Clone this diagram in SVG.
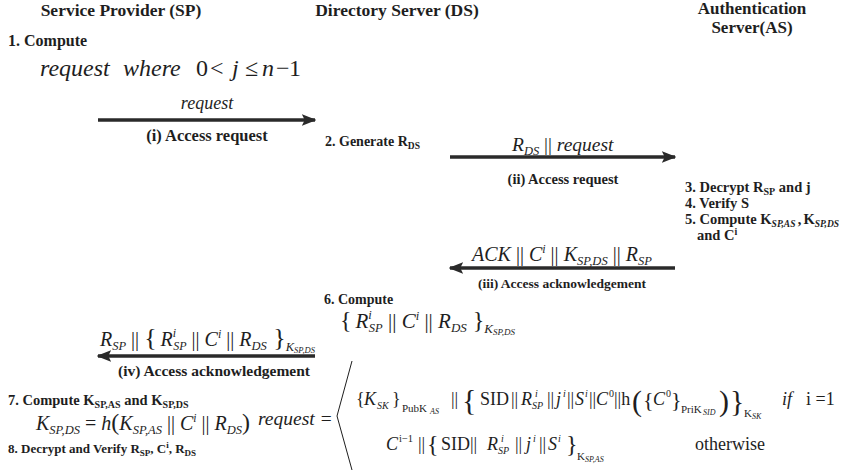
<svg xmlns="http://www.w3.org/2000/svg" width="851" height="473" viewBox="0 0 851 473" font-family="'Liberation Serif', 'DejaVu Serif', serif">
  <style>
    text { font-family: "Liberation Serif", "DejaVu Serif", serif; fill: #1e1e1e; }
    .hd { font-size: 17.5px; font-weight: bold; text-anchor: middle; }
    .st { font-size: 14px; font-weight: bold; }
    .lb { font-size: 14.5px; font-weight: bold; text-anchor: middle; }
    .mi { font-style: italic; }
    .arrow { stroke: #2a2a2a; stroke-width: 3.5; fill: none; }
  </style>
  <defs>
    <marker id="head" viewBox="0 0 10 8" refX="9" refY="4" markerWidth="4.2" markerHeight="3.4" orient="auto" markerUnits="strokeWidth">
      <path d="M0,0 L10,4 L0,8 L2,4 Z" fill="#2a2a2a"/>
    </marker>
  </defs>

  <!-- Service Provider column -->
  <g id="sp-node">
    <text class="hd" x="121" y="16">Service Provider (SP)</text>
    <text class="st" x="8" y="46" style="font-size:16px">1. Compute</text>
    <text x="40" y="76" font-size="24"><tspan class="mi">request</tspan><tspan class="mi" x="123">where</tspan><tspan x="196">0</tspan><tspan x="210">&lt;</tspan><tspan class="mi" x="232">j</tspan><tspan x="245">≤</tspan><tspan class="mi" x="262">n</tspan><tspan x="276">−</tspan><tspan x="289">1</tspan></text>
    <text class="st" x="8" y="405" style="font-size:14.5px">7. Compute  K<tspan font-size="10" dy="2.5">SP,AS</tspan><tspan dy="-2.5"> and K</tspan><tspan font-size="10" dy="2.5">SP,DS</tspan></text>
    <text x="36" y="430" font-size="20"><tspan class="mi">K</tspan><tspan class="mi" font-size="12.5" dy="4">SP,DS</tspan><tspan dy="-4"> = </tspan><tspan class="mi">h</tspan><tspan font-size="24">(</tspan><tspan class="mi">K</tspan><tspan class="mi" font-size="12.5" dy="4">SP,AS</tspan><tspan dy="-4"> || </tspan><tspan class="mi">C</tspan><tspan class="mi" font-size="11.5" dy="-8">i</tspan><tspan dy="8"> || </tspan><tspan class="mi">R</tspan><tspan class="mi" font-size="12.5" dy="4">DS</tspan><tspan font-size="24" dy="-4">)</tspan></text>
    <text class="st" x="8" y="453" style="font-size:13px">8. Decrypt and Verify R<tspan font-size="9" dy="3">SP</tspan><tspan dy="-3">, C</tspan><tspan font-size="9" dy="-5">i</tspan><tspan dy="5">, R</tspan><tspan font-size="9" dy="3">DS</tspan></text>
  </g>

  <!-- Directory Server column -->
  <g id="ds-node">
    <text class="hd" x="397" y="16">Directory Server (DS)</text>
    <text class="st" x="325" y="146">2. Generate  R<tspan font-size="9.5" dy="3">DS</tspan></text>
    <text class="st" x="324" y="304">6. Compute</text>
    <text x="340" y="328" font-size="21"><tspan font-size="24">{</tspan><tspan class="mi" dx="4">R</tspan><tspan class="mi" font-size="12.5" dy="-9">i</tspan><tspan class="mi" font-size="12.5" dx="-3" dy="13">SP</tspan><tspan dy="-4"> || </tspan><tspan class="mi">C</tspan><tspan class="mi" font-size="12.5" dy="-8">i</tspan><tspan dy="8"> || </tspan><tspan class="mi">R</tspan><tspan class="mi" font-size="13" dy="4">DS</tspan><tspan font-size="24" dy="-4"> }</tspan><tspan class="mi" font-size="13" dy="5">K</tspan><tspan class="mi" font-size="9" dy="2">SP,DS</tspan></text>

    <!-- piecewise definition of request -->
    <text class="mi" x="258" y="425" font-size="19.5">request =</text>
    <path d="M352,361 L337,416 L352,470" fill="none" stroke="#1e1e1e" stroke-width="1"/>
    <text y="405" font-size="18">
      <tspan x="356">{</tspan><tspan class="mi" x="364">K</tspan><tspan class="mi" font-size="10" x="377" y="409">SK</tspan>
      <tspan x="392" y="405">}</tspan><tspan font-size="11" x="402" y="412">PubK</tspan><tspan class="mi" font-size="8" x="430" y="414">AS</tspan>
      <tspan x="451" y="405">||</tspan><tspan font-size="30" x="462" y="410">{</tspan>
      <tspan x="480" y="405">SID</tspan><tspan x="511">||</tspan>
      <tspan class="mi" x="521">R</tspan><tspan class="mi" font-size="10" x="535" y="397">i</tspan><tspan class="mi" font-size="10" x="532" y="409">SP</tspan>
      <tspan x="547" y="405">||</tspan><tspan class="mi" x="556">j</tspan><tspan class="mi" font-size="10" x="563" y="397">i</tspan>
      <tspan x="567" y="405">||</tspan><tspan class="mi" x="575">S</tspan><tspan class="mi" font-size="10" x="585" y="397">i</tspan>
      <tspan x="589" y="405">||</tspan><tspan class="mi" x="596">C</tspan><tspan font-size="10" x="609" y="397">0</tspan>
      <tspan x="614" y="405">||h</tspan><tspan font-size="30" x="632" y="411">(</tspan>
      <tspan font-size="22" x="643" y="407">{</tspan><tspan class="mi" x="653" y="405">C</tspan><tspan font-size="10" x="666" y="397">0</tspan>
      <tspan font-size="22" x="671" y="407">}</tspan><tspan font-size="11" x="681" y="413">PriK</tspan><tspan class="mi" font-size="8" x="703" y="415">SID</tspan>
      <tspan font-size="30" x="719" y="411">)</tspan><tspan font-size="30" x="730" y="411">}</tspan>
      <tspan font-size="11" x="744" y="417">K</tspan><tspan class="mi" font-size="8" x="752" y="419">SK</tspan>
    </text>
    <text y="405" font-size="18"><tspan class="mi" x="782">if</tspan><tspan x="806">i =1</tspan></text>
    <text y="450" font-size="18">
      <tspan class="mi" x="386">C</tspan><tspan font-size="10.5" x="399" y="442">i−1</tspan>
      <tspan x="418" y="450">||</tspan><tspan font-size="24" x="427" y="452">{</tspan>
      <tspan x="441" y="450">SID||</tspan>
      <tspan class="mi" x="487">R</tspan><tspan class="mi" font-size="10" x="501" y="442">i</tspan><tspan class="mi" font-size="10" x="498" y="454">SP</tspan>
      <tspan x="515" y="450">||</tspan><tspan class="mi" x="526">j</tspan><tspan class="mi" font-size="10" x="533" y="442">i</tspan>
      <tspan x="539" y="450">||</tspan><tspan class="mi" x="548">S</tspan><tspan class="mi" font-size="10" x="558" y="442">i</tspan>
      <tspan font-size="24" x="566" y="452">}</tspan>
      <tspan font-size="11" x="577" y="460">K</tspan><tspan class="mi" font-size="8" x="585" y="462">SP,AS</tspan>
    </text>
    <text x="695" y="450" font-size="18">otherwise</text>
  </g>

  <!-- Authentication Server column -->
  <g id="as-node">
    <text class="hd" x="752" y="14" style="font-size:17px">Authentication</text>
    <text class="hd" x="752" y="33" style="font-size:17px">Server(AS)</text>
    <text class="st" x="685" y="192" style="font-size:14.5px">3. Decrypt R<tspan font-size="10" dy="3">SP</tspan><tspan dy="-3"> and j</tspan></text>
    <text class="st" x="685" y="208" style="font-size:14.5px">4. Verify S</text>
    <text class="st" x="685" y="224" style="font-size:14.5px">5. Compute K<tspan class="mi" font-size="9.5" dy="3">SP,AS </tspan><tspan dy="-3">,</tspan><tspan dx="2">K</tspan><tspan class="mi" font-size="9.5" dy="3">SP,DS</tspan></text>
    <text class="st" x="697" y="240" style="font-size:14.5px">and C<tspan font-size="10" dy="-5">i</tspan></text>
  </g>

  <!-- Messages -->
  <g id="connectors">
    <line class="arrow" x1="98" y1="120" x2="315" y2="120" marker-end="url(#head)"/>
    <text class="mi" x="207" y="109" font-size="18" text-anchor="middle">request</text>
    <text class="lb" x="207" y="141" style="font-size:16.5px">(i) Access request</text>

    <line class="arrow" x1="450" y1="157" x2="675" y2="157" marker-end="url(#head)"/>
    <text x="512" y="151" font-size="19.5"><tspan class="mi">R</tspan><tspan class="mi" font-size="12.5" dy="4">DS</tspan><tspan dy="-4"> || </tspan><tspan class="mi">request</tspan></text>
    <text class="lb" x="563" y="184">(ii) Access request</text>

    <line class="arrow" x1="675" y1="268" x2="450" y2="268" marker-end="url(#head)"/>
    <text x="472" y="261" font-size="20"><tspan class="mi">ACK</tspan><tspan> || </tspan><tspan class="mi">C</tspan><tspan class="mi" font-size="12" dy="-8">i</tspan><tspan dy="8"> || </tspan><tspan class="mi">K</tspan><tspan class="mi" font-size="12.5" dy="4">SP,DS</tspan><tspan dy="-4"> || </tspan><tspan class="mi">R</tspan><tspan class="mi" font-size="12.5" dy="4">SP</tspan></text>
    <text class="lb" x="562" y="288" style="font-size:13.5px">(iii) Access acknowledgement</text>

    <line class="arrow" x1="315" y1="356" x2="98" y2="356" marker-end="url(#head)"/>
    <text x="100" y="346" font-size="20"><tspan class="mi">R</tspan><tspan class="mi" font-size="12.5" dy="4">SP</tspan><tspan dy="-4"> || </tspan><tspan font-size="26">{</tspan><tspan class="mi" dx="4">R</tspan><tspan class="mi" font-size="12" dy="-9">i</tspan><tspan class="mi" font-size="12" dx="-3" dy="13">SP</tspan><tspan dy="-4"> || </tspan><tspan class="mi">C</tspan><tspan class="mi" font-size="12" dy="-8">i</tspan><tspan dy="8"> || </tspan><tspan class="mi">R</tspan><tspan class="mi" font-size="12.5" dy="4">DS</tspan><tspan font-size="26" dy="-4"> }</tspan><tspan class="mi" font-size="12.5" dy="5">K</tspan><tspan class="mi" font-size="8.5" dy="2">SP,DS</tspan></text>
    <text class="lb" x="214" y="376" style="font-size:15.5px">(iv) Access acknowledgement</text>
  </g>
</svg>
